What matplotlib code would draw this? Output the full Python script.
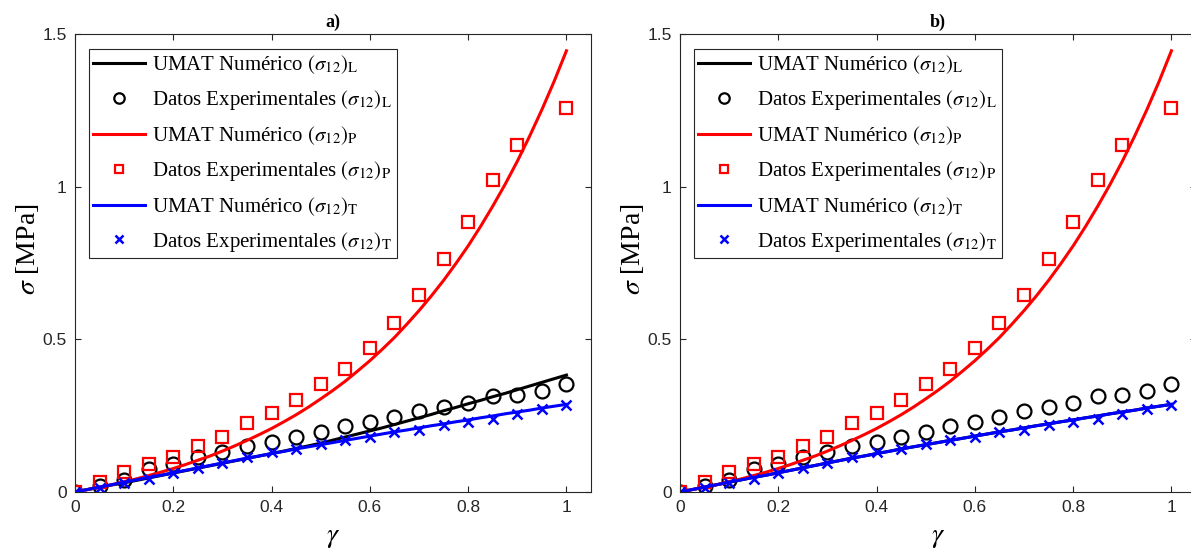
import matplotlib
matplotlib.use("Agg")
import matplotlib.pyplot as plt
import numpy as np

plt.rcParams['mathtext.fontset'] = 'stix'

# ---- data ----
gamma = [0.0, 0.05, 0.1, 0.15, 0.2, 0.25, 0.3, 0.35, 0.4, 0.45, 0.5,
         0.55, 0.6, 0.65, 0.7, 0.75, 0.8, 0.85, 0.9, 0.95, 1.0]

exp_L = [0.0, 0.02, 0.04, 0.075, 0.092, 0.116, 0.13, 0.151, 0.165, 0.18, 0.197,
         0.216, 0.229, 0.246, 0.265, 0.28, 0.292, 0.314, 0.318, 0.332, 0.354]
exp_P = [0.0, 0.033, 0.065, 0.092, 0.115, 0.15, 0.18, 0.226, 0.259, 0.30, 0.354,
         0.403, 0.47, 0.553, 0.645, 0.763, 0.884, 1.022, 1.137, None, 1.258]
exp_T = [0.0, 0.013, 0.03, 0.043, 0.062, 0.079, 0.095, 0.115, 0.131, 0.141, 0.157,
         0.17, 0.18, 0.197, 0.203, 0.219, 0.229, 0.239, 0.256, 0.272, 0.285]

# numerical (UMAT) curves, read at a finer step
gamma_num = [0.0, 0.025, 0.05, 0.075, 0.1, 0.125, 0.15, 0.175, 0.2, 0.225, 0.25,
             0.275, 0.3, 0.325, 0.35, 0.375, 0.4, 0.425, 0.45, 0.475, 0.5,
             0.525, 0.55, 0.575, 0.6, 0.625, 0.65, 0.675, 0.7, 0.725, 0.75,
             0.775, 0.8, 0.825, 0.85, 0.875, 0.9, 0.925, 0.95, 0.975, 1.0]
num_P = [0.0, 0.008, 0.016, 0.024, 0.034, 0.043, 0.054, 0.065, 0.077, 0.090, 0.104,
         0.118, 0.134, 0.151, 0.169, 0.188, 0.208, 0.230, 0.253, 0.278, 0.305,
         0.333, 0.363, 0.396, 0.430, 0.467, 0.506, 0.549, 0.594, 0.642, 0.693,
         0.748, 0.806, 0.869, 0.936, 1.007, 1.083, 1.165, 1.252, 1.345, 1.445]
num_L_a = [0.0, 0.008, 0.015, 0.023, 0.03, 0.038, 0.046, 0.054, 0.062, 0.070, 0.078,
           0.086, 0.094, 0.102, 0.110, 0.118, 0.126, 0.134, 0.143, 0.151, 0.160,
           0.170, 0.180, 0.190, 0.200, 0.210, 0.221, 0.232, 0.243, 0.254, 0.266,
           0.277, 0.289, 0.300, 0.312, 0.323, 0.335, 0.347, 0.359, 0.371, 0.383]
num_T = [0.0, 0.008, 0.016, 0.024, 0.032, 0.040, 0.048, 0.055, 0.063, 0.071, 0.079,
         0.087, 0.095, 0.103, 0.111, 0.118, 0.126, 0.133, 0.141, 0.148, 0.155,
         0.162, 0.169, 0.176, 0.183, 0.190, 0.197, 0.203, 0.210, 0.217, 0.223,
         0.230, 0.236, 0.243, 0.249, 0.256, 0.262, 0.268, 0.275, 0.281, 0.287]
num_L_b = num_T

xticks = [0, 0.2, 0.4, 0.6, 0.8, 1.0]
xticklabels = ['0', '0.2', '0.4', '0.6', '0.8', '1']
yticks = [0, 0.5, 1.0, 1.5]
yticklabels = ['0', '0.5', '1', '1.5']
titles = ['a)', 'b)']
labels = [r'UMAT Numérico $(\sigma_{12})_{\mathrm{L}}$',
          r'Datos Experimentales $(\sigma_{12})_{\mathrm{L}}$',
          r'UMAT Numérico $(\sigma_{12})_{\mathrm{P}}$',
          r'Datos Experimentales $(\sigma_{12})_{\mathrm{P}}$',
          r'UMAT Numérico $(\sigma_{12})_{\mathrm{T}}$',
          r'Datos Experimentales $(\sigma_{12})_{\mathrm{T}}$']

W, H = 1191, 553
fig = plt.figure(figsize=(W / 100, H / 100), dpi=100)
axc = '#262626'

positions = [(75, 34, 516, 458), (680, 34, 516, 458)]
numL = [num_L_a, num_L_b]

g = np.array(gamma)
gn = np.array(gamma_num)
eP = np.array([np.nan if v is None else v for v in exp_P], dtype=float)

for i, (l, t, w, h) in enumerate(positions):
    ax = fig.add_axes([l / W, 1 - (t + h) / H, w / W, h / H])
    hL, = ax.plot(gn, numL[i], color='black', lw=2.2)
    hLe, = ax.plot(g, exp_L, 'o', mfc='none', mec='black', mew=1.6, ms=10, color='black')
    hP, = ax.plot(gn, num_P, color='red', lw=2.2)
    hPe, = ax.plot(g, eP, 's', mfc='none', mec='red', mew=1.6, ms=8, color='red')
    hT, = ax.plot(gn, num_T, color='blue', lw=2.2)
    hTe, = ax.plot(g, exp_T, 'x', color='blue', mew=1.8, ms=7)
    ax.set_xlim(0, 1.05)
    ax.set_ylim(0, 1.5)
    ax.set_xticks(xticks)
    ax.set_xticklabels(xticklabels)
    ax.set_yticks(yticks)
    ax.set_yticklabels(yticklabels)
    ax.tick_params(direction='in', top=True, right=True, length=4, width=0.8,
                   colors=axc, labelsize=12.5, pad=6)
    for lab in ax.get_xticklabels() + ax.get_yticklabels():
        lab.set_fontfamily('Liberation Sans')
    for s in ax.spines.values():
        s.set_color(axc)
        s.set_linewidth(0.8)
    ax.set_xlabel(r'$\gamma$', fontsize=20, labelpad=5)
    ax.set_ylabel(r'$\sigma$ [MPa]', fontsize=20, family='Liberation Serif')
    ax.yaxis.set_label_coords(-0.066, 0.53)
    ax.set_title(titles[i], fontsize=13, fontweight='bold', family='Liberation Serif', pad=5)
    leg = ax.legend([hL, hLe, hP, hPe, hT, hTe], labels, loc='upper left',
                    bbox_to_anchor=(0.027, 0.967), borderaxespad=0,
                    prop={'family': 'Liberation Serif', 'size': 15},
                    fancybox=False, framealpha=1, edgecolor=axc,
                    handlelength=2.5, handletextpad=0.35, labelspacing=0.58,
                    markerscale=0.75, borderpad=0.2)
    leg.get_frame().set_linewidth(0.8)

fig.savefig('out.png', dpi=100)
